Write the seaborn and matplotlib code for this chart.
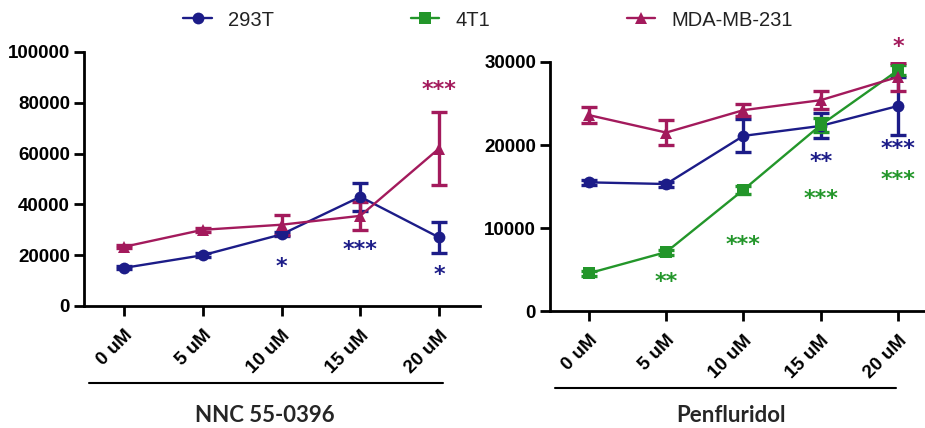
import matplotlib
matplotlib.use("Agg")
import matplotlib.pyplot as plt
from matplotlib.lines import Line2D
import seaborn as sns
import pandas as pd
import numpy as np

sns.set_theme(style="ticks")
plt.rcParams['font.family'] = ['Liberation Sans', 'DejaVu Sans']

# ---------------- data ----------------
doses = [0, 5, 10, 15, 20]
dose_labels = ["0 uM", "5 uM", "10 uM", "15 uM", "20 uM"]

# NNC 55-0396 panel
nnc_293t = [15000, 20000, 28200, 43000, 27000]
nnc_293t_err = [600, 700, 800, 5500, 6200]
nnc_mda = [23300, 30000, 32000, 35500, 62000]
nnc_mda_err = [600, 700, 4000, 5500, 14300]

# Penfluridol panel
pen_293t = [15500, 15300, 21100, 22300, 24700]
pen_293t_err = [300, 300, 2000, 1500, 3500]
pen_4t1 = [4550, 7100, 14600, 22400, 29000]
pen_4t1_err = [300, 300, 500, 800, 600]
pen_mda = [23600, 21500, 24200, 25400, 28200]
pen_mda_err = [1000, 1500, 700, 1100, 1700]

series_names = ["293T", "4T1", "MDA-MB-231"]
colors = {"293T": "#1C1C88", "4T1": "#23962A", "MDA-MB-231": "#A31A5C"}
markers = {"293T": "o", "4T1": "s", "MDA-MB-231": "^"}

# significance annotations: (dose, y, text, series)
nnc_stars = [(10, 15500, "*", "293T"), (15, 22000, "***", "293T"),
             (20, 12200, "*", "293T"), (20, 85000, "***", "MDA-MB-231")]
pen_stars = [(20, 31800, "*", "MDA-MB-231"), (15, 17900, "**", "293T"),
             (20, 19500, "***", "293T"), (20, 15800, "***", "4T1"),
             (15, 13500, "***", "4T1"), (10, 8000, "***", "4T1"),
             (5, 3500, "**", "4T1")]

def make_df(d):
    rows = []
    for name, (vals, errs) in d.items():
        for x, v, e in zip(doses, vals, errs):
            rows.append({"dose": x, "value": v, "err": e, "line": name})
    return pd.DataFrame(rows)

df_nnc = make_df({"293T": (nnc_293t, nnc_293t_err), "MDA-MB-231": (nnc_mda, nnc_mda_err)})
df_pen = make_df({"293T": (pen_293t, pen_293t_err), "4T1": (pen_4t1, pen_4t1_err),
                  "MDA-MB-231": (pen_mda, pen_mda_err)})

W, H = 925, 428
fig = plt.figure(figsize=(W / 100, H / 100), dpi=100)

def px_axes(x0, y0, x1, y1):
    return fig.add_axes([x0 / W, 1 - y1 / H, (x1 - x0) / W, (y1 - y0) / H])

ax1 = px_axes(84, 52, 480, 306)
ax2 = px_axes(550, 62, 925, 311)

def draw(ax, df, stars, ylim, yticks, xlim):
    for name in series_names:
        sub = df[df["line"] == name]
        if sub.empty:
            continue
        ax.errorbar(sub["dose"], sub["value"], yerr=sub["err"], fmt="none",
                    ecolor=colors[name], elinewidth=2.4, capsize=6, capthick=2.4, zorder=2)
    sns.lineplot(data=df, x="dose", y="value", hue="line", style="line",
                 hue_order=[n for n in series_names if n in set(df["line"])],
                 palette=colors, markers=markers, dashes=False, ax=ax,
                 linewidth=1.7, markersize=8.5, markeredgewidth=0, zorder=3,
                 errorbar=None)
    for x, y, t, s in stars:
        ax.text(x, y, t, color=colors[s], ha="center", va="center",
                fontsize=16, fontweight="bold", family="DejaVu Sans")
    ax.set_xlim(*xlim)
    ax.set_ylim(*ylim)
    ax.set_yticks(yticks)
    ax.set_yticklabels([str(v) for v in yticks], fontsize=13.5, fontweight="bold",
                       family=["Liberation Sans", "DejaVu Sans"])
    ax.set_xticks(doses)
    ax.set_xticklabels(dose_labels, rotation=45, ha="right", rotation_mode="anchor",
                       fontsize=13.5, fontweight="bold",
                       family=["Liberation Sans", "DejaVu Sans"])
    ax.set_xlabel("")
    ax.set_ylabel("")
    for sp in ["top", "right"]:
        ax.spines[sp].set_visible(False)
    for sp in ["left", "bottom"]:
        ax.spines[sp].set_linewidth(2)
        ax.spines[sp].set_color("black")
    ax.tick_params(direction="out", length=7, width=2, colors="black", pad=3)
    ax.tick_params(axis="x", pad=8)
    ax.set_facecolor("white")

draw(ax1, df_nnc, nnc_stars, (0, 100000), [0, 20000, 40000, 60000, 80000, 100000], (-2.54, 22.6))
draw(ax2, df_pen, pen_stars, (0, 30000), [0, 10000, 20000, 30000], (-2.52, 21.75))

handles, labels = ax2.get_legend_handles_labels()
for a in (ax1, ax2):
    if a.get_legend() is not None:
        a.get_legend().remove()

leg = fig.legend(handles, labels, loc="center", bbox_to_anchor=(488 / W, 1 - 20 / H),
                 ncol=3, frameon=False, fontsize=14.5, handlelength=1.4,
                 handletextpad=0.8, columnspacing=6.8,
                 prop={"family": ["Liberation Sans", "DejaVu Sans"], "size": 14.5})
for t in leg.get_texts():
    t.set_color("#222222")

# group brackets and labels
fig.add_artist(Line2D([89 / W, 443 / W], [1 - 383 / H, 1 - 383 / H], color="black", lw=1.5))
fig.add_artist(Line2D([555 / W, 896 / W], [1 - 388 / H, 1 - 388 / H], color="black", lw=1.5))
fig.text(265 / W, 1 - 416 / H, "NNC 55-0396", ha="center", va="center",
         fontsize=16, fontweight="bold", family=["Lato", "DejaVu Sans"])
fig.text(731 / W, 1 - 415 / H, "Penfluridol", ha="center", va="center",
         fontsize=16, fontweight="bold", family=["Lato", "DejaVu Sans"])

fig.savefig("out.png", dpi=100, facecolor="white")
